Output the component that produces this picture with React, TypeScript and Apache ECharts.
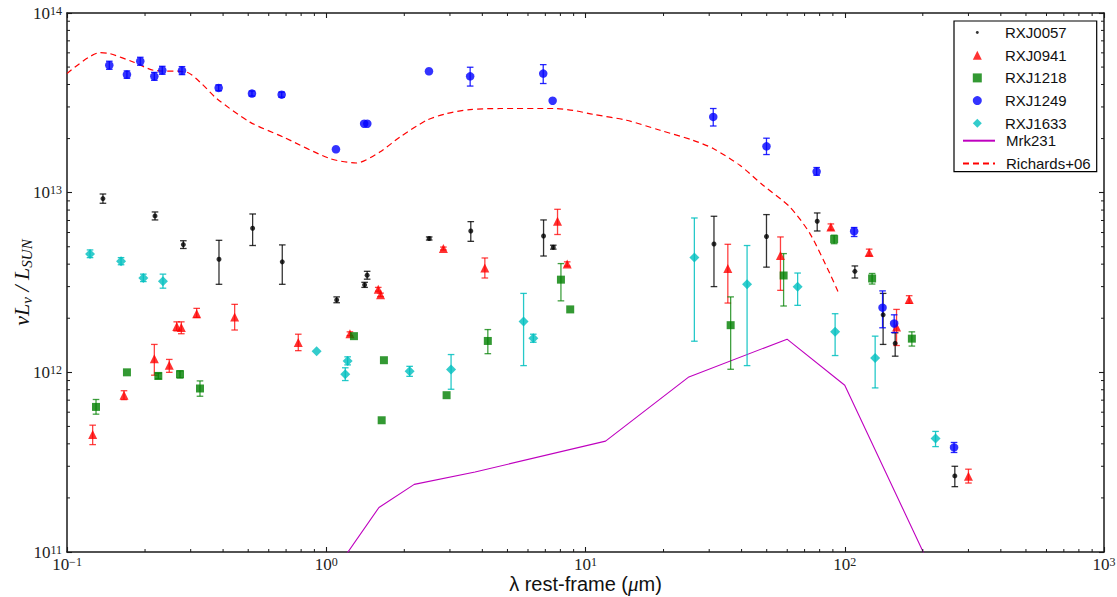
import React, { useEffect, useRef } from 'react';
import * as echarts from 'echarts';

// ---------------- data (rest-frame wavelength in micron, nuLnu in L_sun) ----------------
const rxj0057X = [0.1376, 0.2185, 0.281, 0.3857, 0.52, 0.6766, 1.097, 1.406, 1.438, 2.495, 3.61, 6.89, 7.51, 31.3, 49.9, 78.3, 109.4, 140.6, 156.5, 265.8];
const rxj0057Y = [9.27e12, 7.42e12, 5.14e12, 4.26e12, 6.34e12, 4.12e12, 2.53e12, 3.07e12, 3.47e12, 5.56e12, 6.12e12, 5.74e12, 4.97e12, 5.18e12, 5.7e12, 6.93e12, 3.65e12, 2.09e12, 1.45e12, 2.65e11];
const rxj0057Lo = [8.73e12, 7.05e12, 4.89e12, 3.09e12, 5.08e12, 3.09e12, 2.44e12, 2.97e12, 3.3e12, 5.45e12, 5.36e12, 4.44e12, 4.85e12, 3.0e12, 3.85e12, 6.12e12, 3.35e12, 1.43e12, 1.23e12, 2.31e11];
const rxj0057Hi = [9.83e12, 7.81e12, 5.4e12, 5.43e12, 7.61e12, 5.12e12, 2.63e12, 3.17e12, 3.65e12, 5.67e12, 6.9e12, 7.05e12, 5.1e12, 7.39e12, 7.55e12, 7.71e12, 3.91e12, 2.75e12, 1.66e12, 3.0e11];

const rxj0941X = [0.1256, 0.1659, 0.2172, 0.248, 0.265, 0.276, 0.3164, 0.4433, 0.78, 1.234, 1.587, 1.62, 2.83, 4.09, 7.8, 8.5, 35.4, 56.5, 88.4, 124.2, 158.4, 177.2, 300];
const rxj0941Y = [4.51e11, 7.46e11, 1.19e12, 1.095e12, 1.8e12, 1.775e12, 2.12e12, 2.03e12, 1.465e12, 1.64e12, 2.9e12, 2.7e12, 4.89e12, 3.81e12, 6.93e12, 4.01e12, 3.78e12, 4.47e12, 6.44e12, 4.64e12, 1.79e12, 2.54e12, 2.64e11];
const rxj0941Lo = [3.96e11, 7.05e11, 9.64e11, 1.0e12, 1.7e12, 1.64e12, 2.02e12, 1.72e12, 1.32e12, 1.6e12, 2.83e12, 2.64e12, 4.8e12, 3.35e12, 5.85e12, 3.9e12, 2.43e12, 2.86e12, 6.2e12, 4.45e12, 1.41e12, 2.42e12, 2.42e11];
const rxj0941Hi = [5.08e11, 7.9e11, 1.43e12, 1.18e12, 1.91e12, 1.91e12, 2.27e12, 2.39e12, 1.63e12, 1.68e12, 2.97e12, 2.76e12, 4.98e12, 4.33e12, 8.08e12, 4.12e12, 5.16e12, 5.67e12, 6.7e12, 4.85e12, 2.24e12, 2.67e12, 2.89e11];

const rxj1218X = [0.1294, 0.1703, 0.225, 0.2728, 0.3258, 1.279, 1.636, 1.669, 2.912, 4.2, 8.04, 8.73, 36.3, 58.1, 91.0, 127.5, 181.5];
const rxj1218Y = [6.42e11, 1.0e12, 9.55e11, 9.76e11, 8.13e11, 1.59e12, 5.41e11, 1.168e12, 7.46e11, 1.495e12, 3.28e12, 2.24e12, 1.83e12, 3.46e12, 5.51e12, 3.33e12, 1.54e12];
const rxj1218Lo = [5.85e11, 1.0e12, 9.2e11, 9.3e11, 7.36e11, 1.59e12, 5.41e11, 1.168e12, 7.46e11, 1.27e12, 2.5e12, 2.24e12, 1.04e12, 2.34e12, 5.2e12, 3.1e12, 1.4e12];
const rxj1218Hi = [7.06e11, 1.0e12, 9.9e11, 1.02e12, 8.96e11, 1.59e12, 5.41e11, 1.168e12, 7.46e11, 1.73e12, 4.03e12, 2.24e12, 2.63e12, 4.58e12, 5.8e12, 3.55e12, 1.68e12];

const rxj1249X = [0.1456, 0.1703, 0.1917, 0.2172, 0.2331, 0.2777, 0.3846, 0.517, 0.673, 1.09, 1.4, 1.44, 2.49, 3.59, 6.87, 7.47, 31.1, 49.9, 77.9, 108.7, 139.9, 155.1, 264];
const rxj1249Y = [5.12e13, 4.54e13, 5.39e13, 4.44e13, 4.8e13, 4.78e13, 3.83e13, 3.56e13, 3.51e13, 1.744e13, 2.42e13, 2.42e13, 4.74e13, 4.44e13, 4.6e13, 3.25e13, 2.64e13, 1.81e13, 1.31e13, 6.1e12, 2.29e12, 1.87e12, 3.82e11];
const rxj1249Lo = [4.86e13, 4.33e13, 5.12e13, 4.22e13, 4.56e13, 4.54e13, 3.69e13, 3.45e13, 3.4e13, 1.744e13, 2.42e13, 2.42e13, 4.74e13, 3.92e13, 4.05e13, 3.25e13, 2.35e13, 1.63e13, 1.25e13, 5.7e12, 1.77e12, 1.665e12, 3.58e11];
const rxj1249Hi = [5.39e13, 4.76e13, 5.67e13, 4.67e13, 5.05e13, 5.03e13, 3.98e13, 3.68e13, 3.63e13, 1.744e13, 2.42e13, 2.42e13, 4.74e13, 4.99e13, 5.16e13, 3.25e13, 2.94e13, 2.01e13, 1.38e13, 6.4e12, 2.84e12, 2.09e12, 4.07e11];

const rxj1633X = [0.1227, 0.1616, 0.197, 0.2345, 0.918, 1.184, 1.209, 2.097, 3.03, 5.77, 6.29, 26.3, 42.0, 65.8, 91.8, 131.0, 224];
const rxj1633Y = [4.56e12, 4.15e12, 3.35e12, 3.21e12, 1.31e12, 9.76e11, 1.157e12, 1.014e12, 1.036e12, 1.92e12, 1.55e12, 4.35e12, 3.09e12, 2.99e12, 1.68e12, 1.2e12, 4.28e11];
const rxj1633Lo = [4.35e12, 3.97e12, 3.2e12, 2.94e12, 1.31e12, 9.0e11, 1.1e12, 9.5e11, 8.05e11, 1.09e12, 1.47e12, 1.49e12, 1.09e12, 2.36e12, 1.24e12, 8.19e11, 3.86e11];
const rxj1633Hi = [4.8e12, 4.35e12, 3.52e12, 3.52e12, 1.31e12, 1.06e12, 1.22e12, 1.08e12, 1.256e12, 2.75e12, 1.63e12, 7.23e12, 5.08e12, 3.57e12, 2.12e12, 1.59e12, 4.69e11];

const mrk231X = [1.0, 1.597, 2.185, 3.75, 11.95, 25.05, 59.9, 100, 210];
const mrk231Y = [6.7e10, 1.77e11, 2.38e11, 2.79e11, 4.14e11, 9.43e11, 1.53e12, 8.48e11, 8.7e10];

const richardsX = [0.1, 0.134, 0.1465, 0.18, 0.2153, 0.2894, 0.3258, 0.3779, 0.5077, 0.6825, 1.033, 1.31, 1.61, 1.924, 2.44, 2.91, 3.58, 4.68, 7.51, 8.97, 10.7, 14.4, 19.4, 26.0, 31.1, 39.4, 48.4, 61.4, 73.4, 87.6, 94.3];
const richardsY = [4.6e13, 6.02e13, 5.94e13, 5.34e13, 4.8e13, 4.69e13, 4.13e13, 3.34e13, 2.47e13, 2.04e13, 1.548e13, 1.463e13, 1.684e13, 2.04e13, 2.53e13, 2.755e13, 2.9e13, 2.94e13, 2.94e13, 2.87e13, 2.73e13, 2.53e13, 2.225e13, 1.957e13, 1.76e13, 1.42e13, 1.1e13, 8.33e12, 5.92e12, 3.55e12, 2.8e12];

const xMin = 0.1;
const xMax = 1000;
const yMin = 1e11;
const yMax = 1e14;

// minor tick positions (axis decoration)
const xMinorTicks: number[] = [];
for (let e = -1; e < 3; e++) for (let m = 2; m <= 9; m++) xMinorTicks.push(m * Math.pow(10, e));
const yMinorTicks: number[] = [];
for (let e = 11; e < 14; e++) for (let m = 2; m <= 9; m++) yMinorTicks.push(m * Math.pow(10, e));

const C_BLACK = '#000000';
const C_RED = '#ff0000';
const C_GREEN = '#008000';
const C_BLUE = '#0000ff';
const C_CYAN = '#00bfbf';
const C_MAG = '#bf00bf';
const AXIS_COLOR = '#1a1a1a';

const serif = "'Liberation Serif', 'DejaVu Serif', serif";
const sans = "'Liberation Sans', Arial, sans-serif";

const richTick = {
  b: { fontFamily: serif, fontSize: 17, lineHeight: 17, color: '#222' },
  s: { fontFamily: serif, fontSize: 12, lineHeight: 8, verticalAlign: 'top', color: '#222' },
};
const expLabel = (v: number) => {
  const e = Math.round(Math.log10(v));
  return `{b|10}{s|${e < 0 ? '\u2212' + -e : e}}`;
};

function errSeries(id: string, xs: number[], lo: number[], hi: number[], color: string, opacity: number) {
  return {
    type: 'custom',
    name: id + '-err',
    xAxisIndex: 0,
    yAxisIndex: 0,
    silent: true,
    z: 2,
    data: xs.map((x, i) => [x, lo[i], hi[i]]),
    encode: { x: 0, y: [1, 2] },
    renderItem: (params: any, api: any) => {
      const x = api.value(0);
      const l = api.value(1);
      const h = api.value(2);
      if (!(h > l)) return { type: 'group', children: [] };
      const top = api.coord([x, h]);
      const bot = api.coord([x, l]);
      const w = 3.3;
      const style = { stroke: color, lineWidth: 1.3, opacity };
      return {
        type: 'group',
        children: [
          { type: 'line', shape: { x1: top[0], y1: top[1], x2: bot[0], y2: bot[1] }, style },
          { type: 'line', shape: { x1: top[0] - w, y1: top[1], x2: top[0] + w, y2: top[1] }, style },
          { type: 'line', shape: { x1: bot[0] - w, y1: bot[1], x2: bot[0] + w, y2: bot[1] }, style },
        ],
      };
    },
  };
}

function pts(xs: number[], ys: number[]) {
  return xs.map((x, i) => [x, ys[i]]);
}

export default function App() {
  const ref = useRef<HTMLDivElement>(null);
  useEffect(() => {
    if (!ref.current) return;
    const chart = echarts.init(ref.current, null, { renderer: 'svg' });
    const axisLineStyle = { color: AXIS_COLOR, width: 1.5 };
    const tickStyle = { color: AXIS_COLOR, width: 1.1 };
    const baseX = {
      type: 'log',
      logBase: 10,
      min: xMin,
      max: xMax,
      axisLine: { show: true, onZero: false, lineStyle: axisLineStyle },
      axisTick: { show: true, inside: true, length: 5, lineStyle: tickStyle },
      splitLine: { show: false },
    };
    const baseY = {
      type: 'log',
      logBase: 10,
      min: yMin,
      max: yMax,
      axisLine: { show: true, onZero: false, lineStyle: axisLineStyle },
      axisTick: { show: true, inside: true, length: 5, lineStyle: tickStyle },
      splitLine: { show: false },
    };
    const legendText = { fontFamily: sans, fontSize: 15, color: '#111', lineHeight: 14 };
    const hiddenSymbol = { color: 'rgba(0,0,0,0)', borderColor: 'rgba(0,0,0,0)', borderWidth: 0 };
    const option: any = {
      animation: false,
      backgroundColor: '#ffffff',
      grid: { left: 67, right: 13, top: 13, bottom: 45, containLabel: false, outerBoundsMode: 'none' },
      graphic: [
        {
          type: 'rect',
          z: 10,
          shape: { x: 954, y: 21, width: 142.7, height: 150.7 },
          style: { fill: '#ffffff', stroke: '#000000', lineWidth: 1.2 },
          silent: true,
        },
      ],
      xAxis: [
        {
          ...baseX,
          position: 'bottom',
          axisLabel: { formatter: expLabel, rich: richTick, margin: 4 },
          name: '{n|\u03bb rest-frame (}{i|\u03bc}{n|m)}',
          nameLocation: 'middle',
          nameGap: 22,
          nameMoveOverlap: false,
          nameTextStyle: {
            rich: {
              n: { fontFamily: sans, fontSize: 20, lineHeight: 20, color: '#111' },
              i: { fontFamily: serif, fontStyle: 'italic', fontSize: 21, lineHeight: 20, color: '#111' },
            },
          },
        },
        { ...baseX, position: 'top', axisLabel: { show: false } },
      ],
      yAxis: [
        {
          ...baseY,
          position: 'left',
          axisLabel: { formatter: expLabel, rich: richTick, margin: 5 },
          name: '{a|\u03bdL}{b|\u03bd}{a| / L}{b|SUN}',
          nameLocation: 'middle',
          nameRotate: 90,
          nameGap: 33,
          nameMoveOverlap: false,
          nameTextStyle: {
            rich: {
              a: { fontFamily: serif, fontStyle: 'italic', fontSize: 22, lineHeight: 26, color: '#111' },
              b: { fontFamily: serif, fontStyle: 'italic', fontSize: 15, lineHeight: 15, verticalAlign: 'bottom', color: '#111' },
            },
          },
        },
        { ...baseY, position: 'right', axisLabel: { show: false } },
      ],
      legend: [
        {
          orient: 'vertical',
          left: 972.8,
          top: 25,
          padding: 0,
          z: 11,
          itemWidth: 9,
          itemHeight: 9,
          itemGap: 7.7,
          textStyle: { ...legendText, padding: [0, 0, 0, 18.2] },
          data: [
            { name: 'RXJ0057', icon: 'path://M0,0M10,10M5,3.4A1.6,1.6,0,1,1,5,6.6A1.6,1.6,0,1,1,5,3.4Z' },
            { name: 'RXJ0941', icon: 'triangle' },
            { name: 'RXJ1218', icon: 'rect' },
            { name: 'RXJ1249', icon: 'circle' },
            { name: 'RXJ1633', icon: 'diamond' },
          ],
        },
        {
          orient: 'vertical',
          left: 962,
          top: 133.2,
          padding: 0,
          z: 11,
          itemWidth: 32,
          itemHeight: 9,
          itemGap: 7.7,
          textStyle: { ...legendText, padding: [0, 0, 0, 6] },
          data: [
            { name: 'Mrk231', itemStyle: hiddenSymbol },
            { name: 'Richards+06', itemStyle: hiddenSymbol },
          ],
        },
      ],
      series: [
        {
          type: 'custom',
          name: 'xminor',
          silent: true,
          data: xMinorTicks.map((v) => [v, 1e12]),
          encode: { x: 0, y: 1 },
          renderItem: (params: any, api: any) => {
            const cs = params.coordSys;
            const p = api.coord([api.value(0), 1e12]);
            const st = { stroke: AXIS_COLOR, lineWidth: 1 };
            return {
              type: 'group',
              children: [
                { type: 'line', shape: { x1: p[0], y1: cs.y + cs.height, x2: p[0], y2: cs.y + cs.height - 3 }, style: st },
                { type: 'line', shape: { x1: p[0], y1: cs.y, x2: p[0], y2: cs.y + 3 }, style: st },
              ],
            };
          },
        },
        {
          type: 'custom',
          name: 'yminor',
          silent: true,
          data: yMinorTicks.map((v) => [1, v]),
          encode: { x: 0, y: 1 },
          renderItem: (params: any, api: any) => {
            const cs = params.coordSys;
            const p = api.coord([1, api.value(1)]);
            const st = { stroke: AXIS_COLOR, lineWidth: 1 };
            return {
              type: 'group',
              children: [
                { type: 'line', shape: { x1: cs.x, y1: p[1], x2: cs.x + 3, y2: p[1] }, style: st },
                { type: 'line', shape: { x1: cs.x + cs.width, y1: p[1], x2: cs.x + cs.width - 3, y2: p[1] }, style: st },
              ],
            };
          },
        },
        {
          type: 'line',
          name: 'Mrk231',
          data: pts(mrk231X, mrk231Y),
          symbol: 'none',
          showSymbol: false,
          clip: true,
          itemStyle: { color: C_MAG },
          lineStyle: { color: C_MAG, width: 1.1 },
          z: 1,
        },
        {
          type: 'line',
          name: 'Richards+06',
          data: pts(richardsX, richardsY),
          symbol: 'none',
          showSymbol: false,
          smooth: 0.25,
          clip: true,
          itemStyle: { color: C_RED },
          lineStyle: { color: C_RED, width: 1.2, type: [6, 4] },
          z: 1,
        },
        errSeries('RXJ0057', rxj0057X, rxj0057Lo, rxj0057Hi, C_BLACK, 0.8),
        errSeries('RXJ0941', rxj0941X, rxj0941Lo, rxj0941Hi, C_RED, 0.75),
        errSeries('RXJ1218', rxj1218X, rxj1218Lo, rxj1218Hi, C_GREEN, 0.75),
        errSeries('RXJ1249', rxj1249X, rxj1249Lo, rxj1249Hi, C_BLUE, 0.85),
        errSeries('RXJ1633', rxj1633X, rxj1633Lo, rxj1633Hi, C_CYAN, 0.85),
        { type: 'scatter', name: 'RXJ0057', data: pts(rxj0057X, rxj0057Y), symbol: 'circle', symbolSize: 5, itemStyle: { color: C_BLACK }, z: 3 },
        { type: 'scatter', name: 'RXJ0941', data: pts(rxj0941X, rxj0941Y), symbol: 'triangle', symbolSize: 9, itemStyle: { color: C_RED }, z: 3 },
        { type: 'scatter', name: 'RXJ1218', data: pts(rxj1218X, rxj1218Y), symbol: 'rect', symbolSize: 8, itemStyle: { color: C_GREEN }, z: 3 },
        { type: 'scatter', name: 'RXJ1249', data: pts(rxj1249X, rxj1249Y), symbol: 'circle', symbolSize: 8.5, itemStyle: { color: C_BLUE }, z: 3 },
        { type: 'scatter', name: 'RXJ1633', data: pts(rxj1633X, rxj1633Y), symbol: 'diamond', symbolSize: 10, itemStyle: { color: C_CYAN }, z: 3 },
      ],
    };
    chart.setOption(option);
    return () => chart.dispose();
  }, []);
  return <div ref={ref} style={{ position: 'absolute', left: 0, top: 0, width: 1117, height: 597, background: '#fff' }} />;
}
